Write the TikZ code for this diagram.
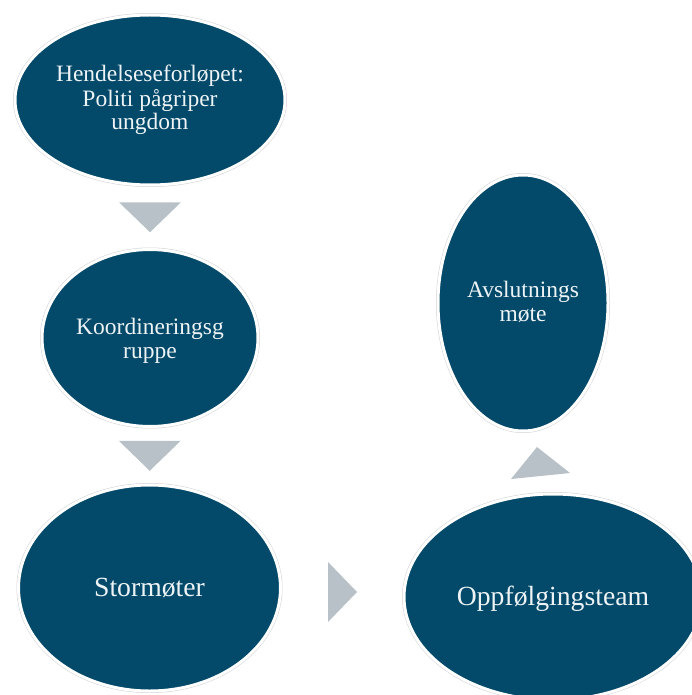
\documentclass[tikz,border=0pt]{standalone}
\usepackage{fontspec}
\setmainfont{Liberation Serif}
\usetikzlibrary{shapes.geometric,calc}
\definecolor{bubble}{HTML}{02496A}
\definecolor{arrowgray}{HTML}{B7C1C7}
\definecolor{bubbletext}{HTML}{EEF3F5}
\newcommand{\bubblelines}[2]{\raisebox{#1}[\height][\depth]{\begin{tabular}{@{}c@{}}#2\end{tabular}}}
\tikzset{
  bubble/.style={ellipse, inner sep=0pt, fill=bubble, draw=white, line width=3pt,
    preaction={draw=black!18, line width=4pt},
    text=bubbletext, align=center},
  smalltext/.style={font=\fontsize{23.5}{23.5}\selectfont},
  bigtext/.style={font=\fontsize{27.7}{28}\selectfont},
  arrowtri/.style={fill=arrowgray}
}
\begin{document}
\begin{tikzpicture}[x=1pt,y=-1pt]
\useasboundingbox (0,0) rectangle (692,695);
\node[bubble, smalltext, minimum width=270pt, minimum height=170pt] (e1) at (150,100)
  {\bubblelines{-1pt}{Hendelseseforløpet:\\Politi pågriper\\ungdom}};
\node[bubble, smalltext, minimum width=216pt, minimum height=177pt] (e2) at (150,338)
  {\bubblelines{-4pt}{Koordineringsg\\ruppe}};
\node[bubble, bigtext, minimum width=262pt, minimum height=206pt] (e3) at (149.5,588)
  {\bubblelines{-3pt}{Stormøter}};
\node[bubble, bigtext, minimum width=298pt, minimum height=206pt] (e4) at (553,597)
  {\bubblelines{-2.5pt}{Oppfølgingsteam}};
\node[bubble, smalltext, minimum width=170pt, minimum height=256pt] (e5) at (523,303)
  {\bubblelines{-2pt}{Avslutnings\\møte}};
% arrows (triangles)
\coordinate (t1) at ($(e1.south)!0.5!(e2.north)$);
\fill[arrowtri] ($(t1)+(-31,-15)$) -- ($(t1)+(31,-15)$) -- ($(t1)+(0,15)$) -- cycle;
\coordinate (t2) at ($(e2.south)!0.5!(e3.north)$);
\fill[arrowtri] ($(t2)+(-31,-15)$) -- ($(t2)+(31,-15)$) -- ($(t2)+(0,15)$) -- cycle;
\coordinate (t3) at (342.5,592);
\fill[arrowtri] ($(t3)+(-14.5,-30)$) -- ($(t3)+(-14.5,30)$) -- ($(t3)+(14.5,0)$) -- cycle;
\coordinate (t4a) at (511,479);
\coordinate (t4b) at (537,447);
\coordinate (t4c) at (570,473);
\fill[arrowtri] (t4a) -- (t4b) -- (t4c) -- cycle;
\end{tikzpicture}
\end{document}
